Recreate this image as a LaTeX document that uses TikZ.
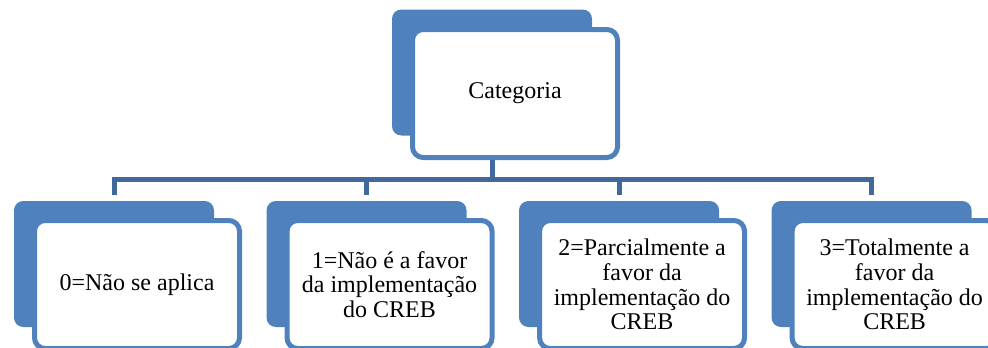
\documentclass[tikz,border=0pt]{standalone}
\usepackage{fontspec}
\setmainfont{Liberation Serif}
\usetikzlibrary{positioning}
\definecolor{boxblue}{HTML}{4F81BD}
\definecolor{linkblue}{HTML}{41699B}

\begin{document}
\begin{tikzpicture}[x=0.75pt,y=-0.75pt,node distance=39pt,
	back node/.style={rectangle,rounded corners=7pt,fill=boxblue,
		minimum width=150pt,minimum height=94.5pt,inner sep=0pt},
	front node/.style={rectangle,rounded corners=8pt,draw=boxblue,
		line width=3.75pt,fill=white,minimum width=153.75pt,
		minimum height=96pt,align=center,
		font=\fontsize{18pt}{18.5pt}\selectfont},
	link/.style={draw=linkblue,line width=3.75pt,shorten >=4.5pt}]
	
	\clip (0,0) rectangle (988,347);
	
	\node[back node] (tb) at (492,72.5) {};
	\node[front node] (tf) at ([shift={(23,21)}]tb) {Categoria};
	
	\node[back node] (b0) at (114,264) {};
	\node[back node] (b1) [right=of b0] {};
	\node[back node] (b2) [right=of b1] {};
	\node[back node] (b3) [right=of b2] {};
	
	\node[front node] (f0) at ([shift={(23,20.5)}]b0) {0=Não se aplica};
	\node[front node] (f1) at ([shift={(23,20.5)}]b1) {1=Não é a favor\\da implementação\\do CREB};
	\node[front node] (f2) at ([shift={(23,20.5)}]b2) {2=Parcialmente a\\favor da\\implementação do\\CREB};
	\node[front node] (f3) at ([shift={(23,20.5)}]b3) {3=Totalmente a\\favor da\\implementação do\\CREB};
	
	\coordinate (bus) at (0,179);
	\draw[link] (tb.south |- tf.south) |- (b0.north |- bus) -- (b0.north);
	\draw[link] (tb.south |- tf.south) |- (b1.north |- bus) -- (b1.north);
	\draw[link] (tb.south |- tf.south) |- (b2.north |- bus) -- (b2.north);
	\draw[link] (tb.south |- tf.south) |- (b3.north |- bus) -- (b3.north);
\end{tikzpicture}
\end{document}
